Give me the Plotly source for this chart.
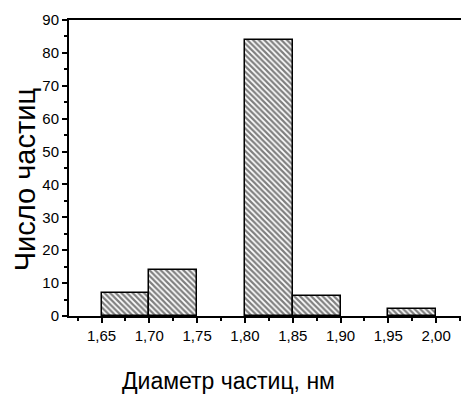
import plotly.graph_objects as go

bin_centers = [1.675, 1.725, 1.825, 1.875, 1.975]
counts = [7, 14, 84, 6, 2]
bin_width = 0.05
x_tick_vals = [1.65, 1.70, 1.75, 1.80, 1.85, 1.90, 1.95, 2.00]
y_tick_vals = [0, 10, 20, 30, 40, 50, 60, 70, 80, 90]
x_title = "Диаметр частиц, нм"
y_title = "Число частиц"

fig = go.Figure(go.Bar(
    x=bin_centers, y=counts, width=[bin_width] * len(counts),
    marker=dict(color="white", line=dict(color="black", width=1.5),
                pattern=dict(shape="\\", fgcolor="black", bgcolor="white",
                             size=4, solidity=0.55)),
))

font = "Liberation Sans, Arial, sans-serif"
fig.update_layout(
    width=461, height=395,
    margin=dict(l=69, r=0, t=20, b=79),
    plot_bgcolor="white", paper_bgcolor="white",
    separators=", ",
    showlegend=False,
    font=dict(family=font, color="black"),
    bargap=0,
    annotations=[
        dict(text=x_title, xref="paper", yref="paper", x=0.408, y=-0.22,
             xanchor="center", yanchor="middle", showarrow=False,
             font=dict(size=23, family=font, color="black")),
        dict(text=y_title, xref="paper", yref="paper", x=-0.112, y=0.459,
             xanchor="center", yanchor="middle", showarrow=False, textangle=-90,
             font=dict(size=29, family=font, color="black")),
    ],
)
fig.update_xaxes(
    range=[1.616, 2.026], tickvals=x_tick_vals, tickformat=".2f",
    automargin=False,
    showline=True, linecolor="black", linewidth=2, mirror=True,
    ticks="outside", ticklen=5, tickwidth=1.5, tickcolor="black",
    minor=dict(dtick=0.025, tick0=1.625, ticks="outside", ticklen=3, tickwidth=1.5, tickcolor="black"),
    showgrid=False, zeroline=False,
    tickfont=dict(size=15, family=font, color="black"),
)
fig.update_yaxes(
    range=[0, 90], tickvals=y_tick_vals,
    automargin=False,
    showline=True, linecolor="black", linewidth=2, mirror=False,
    ticks="outside", ticklen=5, tickwidth=1.5, tickcolor="black",
    minor=dict(dtick=5, tick0=5, ticks="outside", ticklen=3, tickwidth=1.5, tickcolor="black"),
    showgrid=False, zeroline=False,
    tickfont=dict(size=15, family=font, color="black"),
)

fig.write_html("out.html", config={"displayModeBar": False},
               post_script="document.body.style.margin='0';")
